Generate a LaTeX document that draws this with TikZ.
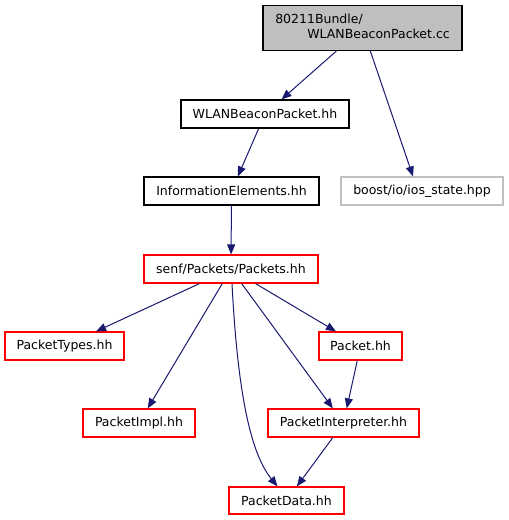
\documentclass[tikz,border=0pt]{standalone}
\usepackage{fontspec}
\setmainfont{DejaVu Sans}
\usetikzlibrary{arrows.meta,calc}
\definecolor{edgeblue}{HTML}{191970}
\definecolor{lgray}{HTML}{BFBFBF}
\definecolor{nodered}{HTML}{FF0000}
\tikzset{
  filebox/.style={draw=black, line width=1.2pt, inner sep=0pt, font=\fontsize{12.5}{15}\selectfont},
  redbox/.style={filebox, draw=nodered},
  graybox/.style={filebox, draw=lgray},
  dep/.style={draw=edgeblue, line width=1pt, -{Triangle[length=10pt,width=8pt]}}
}
\begin{document}
\begin{tikzpicture}[x=1pt,y=-1pt]
\useasboundingbox (0,0) rectangle (509,520);
\node[filebox, fill=lgray, minimum width=199pt, minimum height=45pt] (top) at (362.5,28)
  {\begin{tabular}{@{}l@{}}80211Bundle/\\\hspace*{32pt}WLANBeaconPacket.cc\end{tabular}};
\node[filebox, minimum width=168pt, minimum height=28pt] (wlan) at (265,114) {WLANBeaconPacket.hh};
\node[filebox, minimum width=175pt, minimum height=28pt] (info) at (231.5,191) {InformationElements.hh};
\node[graybox, minimum width=162pt, minimum height=28pt] (boost) at (422,191) {boost/io/ios\_state.hpp};
\node[redbox, minimum width=174pt, minimum height=28pt] (packets) at (231,269) {senf/Packets/Packets.hh};
\node[redbox, minimum width=119pt, minimum height=28pt] (types) at (64.5,346) {PacketTypes.hh};
\node[redbox, minimum width=83pt, minimum height=28pt] (packet) at (360.5,346) {Packet.hh};
\node[redbox, minimum width=112pt, minimum height=28pt] (impl) at (139,423) {PacketImpl.hh};
\node[redbox, minimum width=151pt, minimum height=28pt] (interp) at (343.5,423) {PacketInterpreter.hh};
\node[redbox, minimum width=115pt, minimum height=27pt] (data) at (286.5,500.5) {PacketData.hh};

\draw[dep] (top) -- (wlan);
\draw[dep] (top) -- ($(boost.north)+(-9,0)$);
\draw[dep] (wlan) -- (info);
\draw[dep] (info) -- (packets);
\draw[dep] (packets) -- (types);
\draw[dep] (packets) -- (impl);
\draw[dep] ($(packets.south)+(1,0)$) .. controls (238,400) and (252,455) .. ($(data.north)+(-9,0)$);
\draw[dep] (packets) -- (interp);
\draw[dep] (packets) -- (packet);
\draw[dep] (packet) -- (interp);
\draw[dep] (interp) -- (data);
\end{tikzpicture}
\end{document}
